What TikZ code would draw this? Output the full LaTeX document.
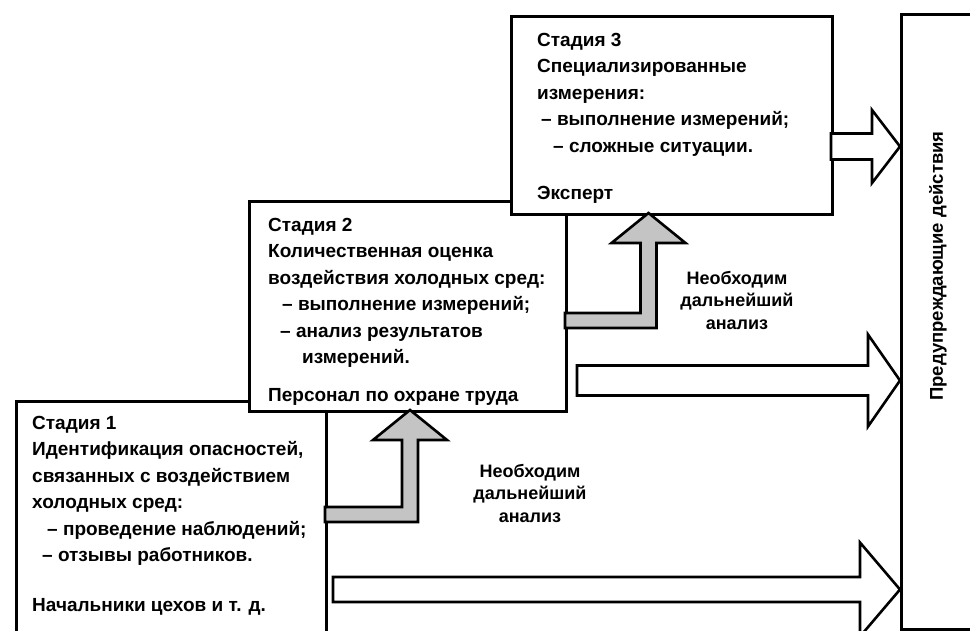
\documentclass[tikz,border=0pt]{standalone}
\usepackage{fontspec}
\setmainfont{Liberation Sans}
\usetikzlibrary{calc}

% white block arrow: from, tip, half shaft, half head, head length
\newcommand\whitearrow[5]{%
  \draw[blockarrow] let \p1=(#1), \p2=(#2) in
    (\x1,\y1+#3) -- (\x2-#5,\y1+#3) -- (\x2-#5,\y1+#4) -- (\x2,\y2)
    -- (\x2-#5,\y1-#4) -- (\x2-#5,\y1-#3) -- (\x1,\y1-#3) -- cycle;}
% grey bent arrow: from box side, up to tip
\newcommand\grayarrow[2]{%
  \draw[bentarrow] let \p1=(#1), \p2=(#2) in
    (\x1,\y1+7.5pt) -- (\x2-8pt,\y1+7.5pt) -- (\x2-8pt,\y2-30pt) -- (\x2-37pt,\y2-30pt)
    -- (\x2,\y2) -- (\x2+37pt,\y2-30pt) -- (\x2+8pt,\y2-30pt) -- (\x2+8pt,\y1-7.5pt)
    -- (\x1,\y1-7.5pt) -- cycle;}

\begin{document}
\begin{tikzpicture}[x=1pt,y=-1pt,
  stagebox/.style={draw,line width=2.6pt,fill=white,anchor=north west,inner sep=0pt},
  stagetext/.style={anchor=north west,inner sep=0pt,align=left,
    font=\fontsize{19}{26.5}\selectfont\bfseries},
  blockarrow/.style={draw,line width=2.6pt,fill=white,line join=miter},
  bentarrow/.style={draw,line width=2.6pt,fill=black!23,line join=miter},
  needlabel/.style={align=center,font=\fontsize{18}{22.5}\selectfont\bfseries}]

\clip (0,0) rectangle (970,630);
\fill[white] (0,0) rectangle (970,630);

\node[stagebox,minimum width=310pt,minimum height=240pt] (s1) at (15,400) {};
\node[stagetext] (t1) at ($(s1.north west)+(17,16)$) {Стадия 1\\
Идентификация опасностей,\\
связанных с воздействием\\
холодных сред:\\
\hspace*{15pt}– проведение наблюдений;\\
\hspace*{10pt}– отзывы работников.\\[23pt]
Начальники цехов и т. д.};

\node[stagebox,minimum width=317pt,minimum height=210pt] (s2) at (248,200) {};
\node[stagetext] (t2) at ($(s2.north west)+(20,18)$) {Стадия 2\\
Количественная оценка\\
воздействия холодных сред:\\
\hspace*{14pt}– выполнение измерений;\\
\hspace*{12pt}– анализ результатов\\
\hspace*{34pt}измерений.\\[11pt]
Персонал по охране труда};

\node[stagebox,minimum width=321pt,minimum height=198pt] (s3) at (510,15) {};
\node[stagetext] (t3) at ($(s3.north west)+(27,18)$) {Стадия 3\\
Специализированные\\
измерения:\\
\hspace*{4pt}– выполнение измерений;\\
\hspace*{16pt}– сложные ситуации.\\[21pt]
Эксперт};

\node[stagebox,minimum width=110pt,minimum height=615pt] (pan) at (900,13) {};
\node[rotate=90,font=\fontsize{18.5}{20}\selectfont\bfseries] (pantext) at (938,266) {Предупреждающие действия};

% arrows to preventive actions
\coordinate (w1s) at (831,146.5);
\coordinate (w1t) at (900,146.5);
\coordinate (w2s) at (577,380.5);
\coordinate (w2t) at (900,380.5);
\coordinate (w3s) at (333,589.5);
\coordinate (w3t) at (900,589.5);
\whitearrow{w1s}{w1t}{13pt}{36.5pt}{28pt}
\whitearrow{w2s}{w2t}{15pt}{46pt}{32pt}
\whitearrow{w3s}{w3t}{12.5pt}{47pt}{40pt}

% further analysis
\coordinate (g1s) at (325,514.5);
\coordinate (g1t) at (410,410);
\coordinate (g2s) at (565,320.5);
\coordinate (g2t) at (648.5,213);
\grayarrow{g1s}{g1t}
\grayarrow{g2s}{g2t}

\node[needlabel] (n1) at (530,493) {Необходим\\дальнейший\\анализ};
\node[needlabel] (n2) at (737,300) {Необходим\\дальнейший\\анализ};

\end{tikzpicture}
\end{document}
